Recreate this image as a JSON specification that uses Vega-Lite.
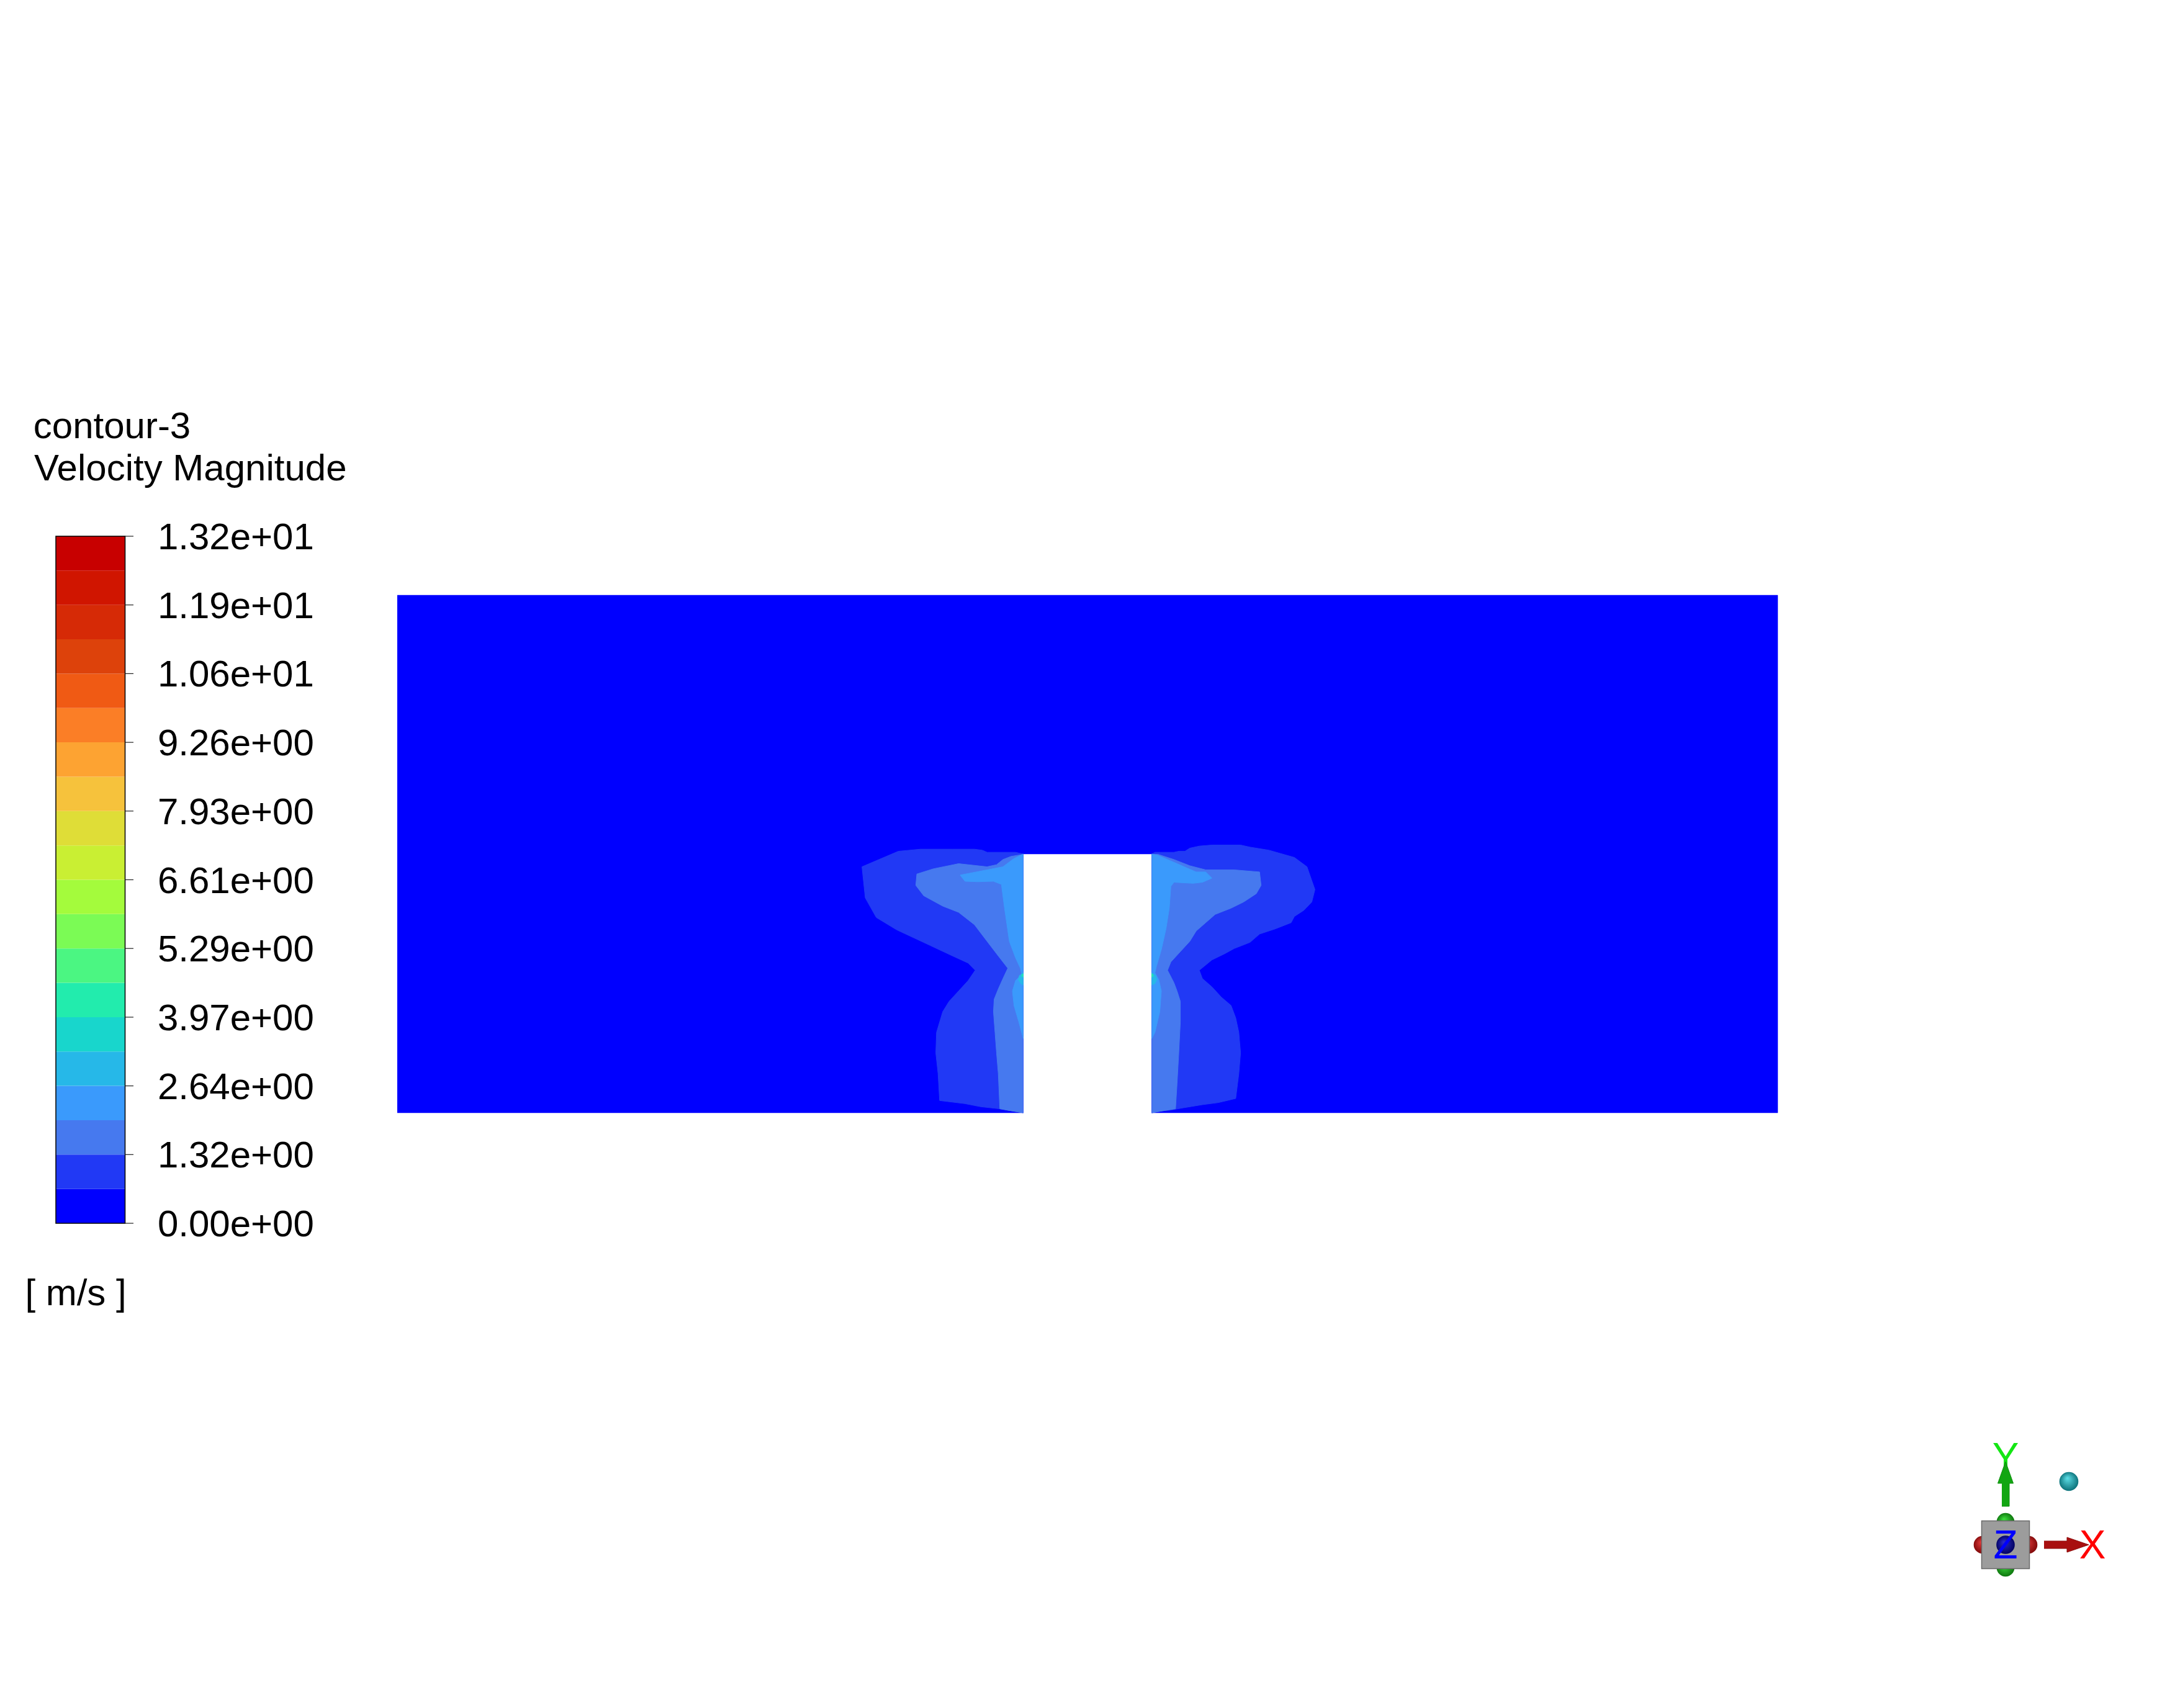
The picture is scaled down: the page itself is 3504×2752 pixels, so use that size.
{
  "$schema": "https://vega.github.io/schema/vega-lite/v6.json",
  "width": 3504,
  "height": 2752,
  "autosize": {"type": "fit", "contains": "padding"},
  "padding": 0,
  "background": "white",
  "config": {"view": {"stroke": null}, "font": "Liberation Sans"},
  "datasets": {
    "field": [
      {"p":"D","band":0,"i":0,"x":-0.4,"y":0},{"p":"D","band":0,"i":1,"x":-0.0372,"y":0},{"p":"D","band":0,"i":2,"x":-0.0372,"y":0.15},{"p":"D","band":0,"i":3,"x":0.0372,"y":0.15},{"p":"D","band":0,"i":4,"x":0.0372,"y":0},{"p":"D","band":0,"i":5,"x":0.4,"y":0},{"p":"D","band":0,"i":6,"x":0.4,"y":0.3},{"p":"D","band":0,"i":7,"x":-0.4,"y":0.3},

      {"p":"L1","band":1,"i":0,"x":-0.0372,"y":0.1500},{"p":"L1","band":1,"i":1,"x":-0.0417,"y":0.1510},{"p":"L1","band":1,"i":2,"x":-0.0582,"y":0.1510},{"p":"L1","band":1,"i":3,"x":-0.0609,"y":0.1522},{"p":"L1","band":1,"i":4,"x":-0.0655,"y":0.1528},{"p":"L1","band":1,"i":5,"x":-0.0784,"y":0.1528},{"p":"L1","band":1,"i":6,"x":-0.0967,"y":0.1528},{"p":"L1","band":1,"i":7,"x":-0.1096,"y":0.1516},{"p":"L1","band":1,"i":8,"x":-0.1307,"y":0.1426},{"p":"L1","band":1,"i":9,"x":-0.1288,"y":0.1246},{"p":"L1","band":1,"i":10,"x":-0.1224,"y":0.1132},{"p":"L1","band":1,"i":11,"x":-0.1105,"y":0.1060},{"p":"L1","band":1,"i":12,"x":-0.0912,"y":0.0970},{"p":"L1","band":1,"i":13,"x":-0.0784,"y":0.0910},{"p":"L1","band":1,"i":14,"x":-0.0692,"y":0.0868},{"p":"L1","band":1,"i":15,"x":-0.0651,"y":0.0826},{"p":"L1","band":1,"i":16,"x":-0.0692,"y":0.0766},{"p":"L1","band":1,"i":17,"x":-0.0747,"y":0.0706},{"p":"L1","band":1,"i":18,"x":-0.0802,"y":0.0646},{"p":"L1","band":1,"i":19,"x":-0.0839,"y":0.0586},{"p":"L1","band":1,"i":20,"x":-0.0875,"y":0.0466},{"p":"L1","band":1,"i":21,"x":-0.0879,"y":0.0347},{"p":"L1","band":1,"i":22,"x":-0.0866,"y":0.0227},{"p":"L1","band":1,"i":23,"x":-0.0857,"y":0.0071},{"p":"L1","band":1,"i":24,"x":-0.0710,"y":0.0053},{"p":"L1","band":1,"i":25,"x":-0.0618,"y":0.0035},{"p":"L1","band":1,"i":26,"x":-0.0508,"y":0.0023},{"p":"L1","band":1,"i":27,"x":-0.0372,"y":0.0},

      {"p":"L2","band":2,"i":0,"x":-0.0372,"y":0.1498},{"p":"L2","band":2,"i":1,"x":-0.0444,"y":0.1486},{"p":"L2","band":2,"i":2,"x":-0.0490,"y":0.1468},{"p":"L2","band":2,"i":3,"x":-0.0527,"y":0.1438},{"p":"L2","band":2,"i":4,"x":-0.0582,"y":0.1426},{"p":"L2","band":2,"i":5,"x":-0.0747,"y":0.1444},{"p":"L2","band":2,"i":6,"x":-0.0894,"y":0.1414},{"p":"L2","band":2,"i":7,"x":-0.0989,"y":0.1384},{"p":"L2","band":2,"i":8,"x":-0.0995,"y":0.1318},{"p":"L2","band":2,"i":9,"x":-0.0949,"y":0.1258},{"p":"L2","band":2,"i":10,"x":-0.0839,"y":0.1198},{"p":"L2","band":2,"i":11,"x":-0.0747,"y":0.1162},{"p":"L2","band":2,"i":12,"x":-0.0655,"y":0.1090},{"p":"L2","band":2,"i":13,"x":-0.0582,"y":0.0994},{"p":"L2","band":2,"i":14,"x":-0.0527,"y":0.0922},{"p":"L2","band":2,"i":15,"x":-0.0490,"y":0.0874},{"p":"L2","band":2,"i":16,"x":-0.0462,"y":0.0838},{"p":"L2","band":2,"i":17,"x":-0.0490,"y":0.0778},{"p":"L2","band":2,"i":18,"x":-0.0517,"y":0.0718},{"p":"L2","band":2,"i":19,"x":-0.0541,"y":0.0658},{"p":"L2","band":2,"i":20,"x":-0.0545,"y":0.0586},{"p":"L2","band":2,"i":21,"x":-0.0536,"y":0.0466},{"p":"L2","band":2,"i":22,"x":-0.0527,"y":0.0347},{"p":"L2","band":2,"i":23,"x":-0.0517,"y":0.0227},{"p":"L2","band":2,"i":24,"x":-0.0508,"y":0.0023},{"p":"L2","band":2,"i":25,"x":-0.0453,"y":0.0013},{"p":"L2","band":2,"i":26,"x":-0.0372,"y":0.0},

      {"p":"L3","band":3,"i":0,"x":-0.0372,"y":0.1500},{"p":"L3","band":3,"i":1,"x":-0.0426,"y":0.1474},{"p":"L3","band":3,"i":2,"x":-0.0490,"y":0.1426},{"p":"L3","band":3,"i":3,"x":-0.0582,"y":0.1408},{"p":"L3","band":3,"i":4,"x":-0.0738,"y":0.1378},{"p":"L3","band":3,"i":5,"x":-0.0710,"y":0.1342},{"p":"L3","band":3,"i":6,"x":-0.0637,"y":0.1339},{"p":"L3","band":3,"i":7,"x":-0.0545,"y":0.1342},{"p":"L3","band":3,"i":8,"x":-0.0499,"y":0.1324},{"p":"L3","band":3,"i":9,"x":-0.0481,"y":0.1186},{"p":"L3","band":3,"i":10,"x":-0.0453,"y":0.0994},{"p":"L3","band":3,"i":11,"x":-0.0417,"y":0.0898},{"p":"L3","band":3,"i":12,"x":-0.0389,"y":0.0838},{"p":"L3","band":3,"i":13,"x":-0.0380,"y":0.0802},{"p":"L3","band":3,"i":14,"x":-0.0417,"y":0.0766},{"p":"L3","band":3,"i":15,"x":-0.0435,"y":0.0706},{"p":"L3","band":3,"i":16,"x":-0.0426,"y":0.0622},{"p":"L3","band":3,"i":17,"x":-0.0398,"y":0.0526},{"p":"L3","band":3,"i":18,"x":-0.0372,"y":0.0430},

      {"p":"L4","band":4,"i":0,"x":-0.0372,"y":0.0812},{"p":"L4","band":4,"i":1,"x":-0.0395,"y":0.0796},{"p":"L4","band":4,"i":2,"x":-0.0402,"y":0.0772},{"p":"L4","band":4,"i":3,"x":-0.0387,"y":0.0748},{"p":"L4","band":4,"i":4,"x":-0.0372,"y":0.0740},
      {"p":"L5","band":6,"i":0,"x":-0.0372,"y":0.0808},{"p":"L5","band":6,"i":1,"x":-0.0381,"y":0.0800},{"p":"L5","band":6,"i":2,"x":-0.0379,"y":0.0790},{"p":"L5","band":6,"i":3,"x":-0.0372,"y":0.0786},

      {"p":"R1","band":1,"i":0,"x":0.0372,"y":0.1500},{"p":"R1","band":1,"i":1,"x":0.0391,"y":0.1510},{"p":"R1","band":1,"i":2,"x":0.0501,"y":0.1510},{"p":"R1","band":1,"i":3,"x":0.0529,"y":0.1516},{"p":"R1","band":1,"i":4,"x":0.0565,"y":0.1516},{"p":"R1","band":1,"i":5,"x":0.0593,"y":0.1534},{"p":"R1","band":1,"i":6,"x":0.0648,"y":0.1546},{"p":"R1","band":1,"i":7,"x":0.0721,"y":0.1552},{"p":"R1","band":1,"i":8,"x":0.0887,"y":0.1552},{"p":"R1","band":1,"i":9,"x":0.0942,"y":0.1540},{"p":"R1","band":1,"i":10,"x":0.1052,"y":0.1522},{"p":"R1","band":1,"i":11,"x":0.1199,"y":0.1480},{"p":"R1","band":1,"i":12,"x":0.1272,"y":0.1426},{"p":"R1","band":1,"i":13,"x":0.1318,"y":0.1294},{"p":"R1","band":1,"i":14,"x":0.1300,"y":0.1222},{"p":"R1","band":1,"i":15,"x":0.1254,"y":0.1174},{"p":"R1","band":1,"i":16,"x":0.1199,"y":0.1138},{"p":"R1","band":1,"i":17,"x":0.1180,"y":0.1102},{"p":"R1","band":1,"i":18,"x":0.1088,"y":0.1066},{"p":"R1","band":1,"i":19,"x":0.0997,"y":0.1036},{"p":"R1","band":1,"i":20,"x":0.0942,"y":0.0988},{"p":"R1","band":1,"i":21,"x":0.0850,"y":0.0952},{"p":"R1","band":1,"i":22,"x":0.0795,"y":0.0922},{"p":"R1","band":1,"i":23,"x":0.0721,"y":0.0886},{"p":"R1","band":1,"i":24,"x":0.0648,"y":0.0826},{"p":"R1","band":1,"i":25,"x":0.0666,"y":0.0778},{"p":"R1","band":1,"i":26,"x":0.0721,"y":0.0730},{"p":"R1","band":1,"i":27,"x":0.0776,"y":0.0670},{"p":"R1","band":1,"i":28,"x":0.0832,"y":0.0622},{"p":"R1","band":1,"i":29,"x":0.0859,"y":0.0550},{"p":"R1","band":1,"i":30,"x":0.0877,"y":0.0466},{"p":"R1","band":1,"i":31,"x":0.0887,"y":0.0347},{"p":"R1","band":1,"i":32,"x":0.0877,"y":0.0227},{"p":"R1","band":1,"i":33,"x":0.0859,"y":0.0083},{"p":"R1","band":1,"i":34,"x":0.0758,"y":0.0059},{"p":"R1","band":1,"i":35,"x":0.0666,"y":0.0047},{"p":"R1","band":1,"i":36,"x":0.0556,"y":0.0029},{"p":"R1","band":1,"i":37,"x":0.0483,"y":0.0016},{"p":"R1","band":1,"i":38,"x":0.0428,"y":0.0010},{"p":"R1","band":1,"i":39,"x":0.0372,"y":0.0},

      {"p":"R2","band":2,"i":0,"x":0.0372,"y":0.1498},{"p":"R2","band":2,"i":1,"x":0.0409,"y":0.1498},{"p":"R2","band":2,"i":2,"x":0.0501,"y":0.1468},{"p":"R2","band":2,"i":3,"x":0.0593,"y":0.1432},{"p":"R2","band":2,"i":4,"x":0.0685,"y":0.1408},{"p":"R2","band":2,"i":5,"x":0.0850,"y":0.1408},{"p":"R2","band":2,"i":6,"x":0.0997,"y":0.1396},{"p":"R2","band":2,"i":7,"x":0.1006,"y":0.1318},{"p":"R2","band":2,"i":8,"x":0.0978,"y":0.1270},{"p":"R2","band":2,"i":9,"x":0.0905,"y":0.1222},{"p":"R2","band":2,"i":10,"x":0.0832,"y":0.1186},{"p":"R2","band":2,"i":11,"x":0.0740,"y":0.1150},{"p":"R2","band":2,"i":12,"x":0.0685,"y":0.1102},{"p":"R2","band":2,"i":13,"x":0.0630,"y":0.1054},{"p":"R2","band":2,"i":14,"x":0.0593,"y":0.0994},{"p":"R2","band":2,"i":15,"x":0.0538,"y":0.0934},{"p":"R2","band":2,"i":16,"x":0.0483,"y":0.0874},{"p":"R2","band":2,"i":17,"x":0.0464,"y":0.0826},{"p":"R2","band":2,"i":18,"x":0.0501,"y":0.0754},{"p":"R2","band":2,"i":19,"x":0.0519,"y":0.0706},{"p":"R2","band":2,"i":20,"x":0.0538,"y":0.0646},{"p":"R2","band":2,"i":21,"x":0.0538,"y":0.0526},{"p":"R2","band":2,"i":22,"x":0.0529,"y":0.0347},{"p":"R2","band":2,"i":23,"x":0.0519,"y":0.0167},{"p":"R2","band":2,"i":24,"x":0.0510,"y":0.0023},{"p":"R2","band":2,"i":25,"x":0.0446,"y":0.0013},{"p":"R2","band":2,"i":26,"x":0.0372,"y":0.0},

      {"p":"R3","band":3,"i":0,"x":0.0372,"y":0.1500},{"p":"R3","band":3,"i":1,"x":0.0409,"y":0.1492},{"p":"R3","band":3,"i":2,"x":0.0464,"y":0.1468},{"p":"R3","band":3,"i":3,"x":0.0519,"y":0.1444},{"p":"R3","band":3,"i":4,"x":0.0574,"y":0.1420},{"p":"R3","band":3,"i":5,"x":0.0630,"y":0.1396},{"p":"R3","band":3,"i":6,"x":0.0685,"y":0.1396},{"p":"R3","band":3,"i":7,"x":0.0721,"y":0.1360},{"p":"R3","band":3,"i":8,"x":0.0666,"y":0.1336},{"p":"R3","band":3,"i":9,"x":0.0611,"y":0.1330},{"p":"R3","band":3,"i":10,"x":0.0501,"y":0.1336},{"p":"R3","band":3,"i":11,"x":0.0483,"y":0.1312},{"p":"R3","band":3,"i":12,"x":0.0474,"y":0.1186},{"p":"R3","band":3,"i":13,"x":0.0455,"y":0.1066},{"p":"R3","band":3,"i":14,"x":0.0428,"y":0.0946},{"p":"R3","band":3,"i":15,"x":0.0400,"y":0.0850},{"p":"R3","band":3,"i":16,"x":0.0391,"y":0.0812},{"p":"R3","band":3,"i":17,"x":0.0413,"y":0.0772},{"p":"R3","band":3,"i":18,"x":0.0428,"y":0.0706},{"p":"R3","band":3,"i":19,"x":0.0419,"y":0.0586},{"p":"R3","band":3,"i":20,"x":0.0391,"y":0.0466},{"p":"R3","band":3,"i":21,"x":0.0372,"y":0.0430},

      {"p":"R4","band":4,"i":0,"x":0.0372,"y":0.0812},{"p":"R4","band":4,"i":1,"x":0.0395,"y":0.0796},{"p":"R4","band":4,"i":2,"x":0.0403,"y":0.0772},{"p":"R4","band":4,"i":3,"x":0.0391,"y":0.0748},{"p":"R4","band":4,"i":4,"x":0.0372,"y":0.0740},
      {"p":"R5","band":6,"i":0,"x":0.0372,"y":0.0808},{"p":"R5","band":6,"i":1,"x":0.0381,"y":0.0800},{"p":"R5","band":6,"i":2,"x":0.0379,"y":0.0790},{"p":"R5","band":6,"i":3,"x":0.0372,"y":0.0786}
    ],
    "bands": [
      {"band":0,"lo":0,"hi":0.66},{"band":1,"lo":0.66,"hi":1.32},{"band":2,"lo":1.32,"hi":1.98},{"band":3,"lo":1.98,"hi":2.64},{"band":4,"lo":2.64,"hi":3.30},{"band":5,"lo":3.30,"hi":3.96},{"band":6,"lo":3.96,"hi":4.62},{"band":7,"lo":4.62,"hi":5.28},{"band":8,"lo":5.28,"hi":5.94},{"band":9,"lo":5.94,"hi":6.60},{"band":10,"lo":6.60,"hi":7.26},{"band":11,"lo":7.26,"hi":7.92},{"band":12,"lo":7.92,"hi":8.58},{"band":13,"lo":8.58,"hi":9.24},{"band":14,"lo":9.24,"hi":9.90},{"band":15,"lo":9.90,"hi":10.56},{"band":16,"lo":10.56,"hi":11.22},{"band":17,"lo":11.22,"hi":11.88},{"band":18,"lo":11.88,"hi":12.54},{"band":19,"lo":12.54,"hi":13.2}
    ],
    "ticks": [
      {"v":0,"label":"0.00e+00"},{"v":1.32,"label":"1.32e+00"},{"v":2.64,"label":"2.64e+00"},{"v":3.96,"label":"3.97e+00"},{"v":5.28,"label":"5.29e+00"},{"v":6.60,"label":"6.61e+00"},{"v":7.92,"label":"7.93e+00"},{"v":9.24,"label":"9.26e+00"},{"v":10.56,"label":"1.06e+01"},{"v":11.88,"label":"1.19e+01"},{"v":13.2,"label":"1.32e+01"}
    ],
    "triadPoly": [
      {"part":"Y","i":0,"x":-0.06,"y":0.62},{"part":"Y","i":1,"x":0.06,"y":0.62},{"part":"Y","i":2,"x":0.06,"y":0.99},{"part":"Y","i":3,"x":0.125,"y":0.99},{"part":"Y","i":4,"x":0,"y":1.34},{"part":"Y","i":5,"x":-0.125,"y":0.99},{"part":"Y","i":6,"x":-0.06,"y":0.99},
      {"part":"X","i":0,"x":0.62,"y":-0.06},{"part":"X","i":1,"x":0.99,"y":-0.06},{"part":"X","i":2,"x":0.99,"y":-0.12},{"part":"X","i":3,"x":1.34,"y":0},{"part":"X","i":4,"x":0.99,"y":0.12},{"part":"X","i":5,"x":0.99,"y":0.06},{"part":"X","i":6,"x":0.62,"y":0.06}
    ],
    "triadPts": [
      {"part":"red","x":-0.37,"y":0},{"part":"red","x":0.37,"y":0},
      {"part":"green","x":0,"y":0.37},{"part":"green","x":0,"y":-0.37},
      {"part":"box","x":0,"y":0},
      {"part":"blue","x":0,"y":0},
      {"part":"teal","x":1.02,"y":1.02}
    ],
    "triadText": [
      {"axis":"X","x":1.40,"y":0},{"axis":"Y","x":0,"y":1.41},{"axis":"Z","x":0,"y":0}
    ]
  },
  "resolve": {"scale": {"x": "independent", "y": "independent"}},
  "layer": [
    {
      "data": {"name": "field"},
      "encoding": {
        "x": {"field": "x", "type": "quantitative", "scale": {"domain": [-0.63022, 0.63022], "nice": false, "zero": false}, "axis": null},
        "y": {"field": "y", "type": "quantitative", "scale": {"domain": [-0.34496, 0.64496], "nice": false, "zero": false}, "axis": null},
        "order": {"field": "i", "type": "quantitative"},
        "detail": {"field": "p", "type": "nominal"},
        "fill": {"field": "band", "type": "ordinal", "legend": null, "scale": {"domain": [0,1,2,3,4,5,6,7,8,9,10,11,12,13,14,15,16,17,18,19], "range": ["#0000ff","#2139f5","#4679ef","#3a9afc","#26b8e8","#18d6cc","#22ecad","#4bf682","#7bfb55","#a4fb3c","#c9ef33","#dfdd37","#f6c23c","#fda332","#fb7e26","#f05a14","#dd420b","#d62a06","#d01500","#c80000"]}},
        "stroke": {"field": "band", "type": "ordinal", "legend": null, "scale": {"domain": [0,1,2,3,4,5,6,7,8,9,10,11,12,13,14,15,16,17,18,19], "range": ["#0000ff","#2139f5","#4679ef","#3a9afc","#26b8e8","#18d6cc","#22ecad","#4bf682","#7bfb55","#a4fb3c","#c9ef33","#dfdd37","#f6c23c","#fda332","#fb7e26","#f05a14","#dd420b","#d62a06","#d01500","#c80000"]}}
      },
      "layer": [
        {"transform": [{"filter": "datum.band == 0"}], "mark": {"type": "line", "strokeWidth": 0.5, "strokeJoin": "miter"}},
        {"transform": [{"filter": "datum.band == 1"}], "mark": {"type": "line", "strokeWidth": 1, "strokeJoin": "round"}},
        {"transform": [{"filter": "datum.band == 2"}], "mark": {"type": "line", "strokeWidth": 1, "strokeJoin": "round"}},
        {"transform": [{"filter": "datum.band == 3"}], "mark": {"type": "line", "strokeWidth": 1, "strokeJoin": "round"}},
        {"transform": [{"filter": "datum.band >= 4"}], "mark": {"type": "line", "strokeWidth": 0.5, "strokeJoin": "round"}}
      ]
    },
    {
      "layer": [
        {
          "data": {"name": "bands"},
          "mark": {"type": "rect", "strokeWidth": 0},
          "encoding": {
            "x": {"datum": 0, "type": "quantitative", "scale": {"domain": [-0.80717, 30.6188], "nice": false, "zero": false}, "axis": null},
            "x2": {"datum": 1},
            "y": {"field": "lo", "type": "quantitative", "scale": {"domain": [-9.3127, 23.5024], "nice": false, "zero": false}, "axis": null},
            "y2": {"field": "hi"},
            "fill": {"field": "band", "type": "ordinal", "legend": null, "scale": {"domain": [0,1,2,3,4,5,6,7,8,9,10,11,12,13,14,15,16,17,18,19], "range": ["#0000ff","#2139f5","#4679ef","#3a9afc","#26b8e8","#18d6cc","#22ecad","#4bf682","#7bfb55","#a4fb3c","#c9ef33","#dfdd37","#f6c23c","#fda332","#fb7e26","#f05a14","#dd420b","#d62a06","#d01500","#c80000"]}}
          }
        },
        {
          "data": {"values": [{}]},
          "mark": {"type": "rect", "fill": null, "fillOpacity": 0, "stroke": "#000000", "strokeWidth": 1.5},
          "encoding": {
            "x": {"datum": 0, "type": "quantitative", "scale": {"domain": [-0.80717, 30.6188], "nice": false, "zero": false}, "axis": null},
            "x2": {"datum": 1},
            "y": {"datum": 0, "type": "quantitative", "scale": {"domain": [-9.3127, 23.5024], "nice": false, "zero": false}, "axis": null},
            "y2": {"datum": 13.2}
          }
        },
        {
          "data": {"name": "ticks"},
          "mark": {"type": "rule", "stroke": "#222222", "strokeWidth": 1.2},
          "encoding": {
            "x": {"datum": 1, "type": "quantitative", "scale": {"domain": [-0.80717, 30.6188], "nice": false, "zero": false}, "axis": null},
            "x2": {"datum": 1.1211},
            "y": {"field": "v", "type": "quantitative", "scale": {"domain": [-9.3127, 23.5024], "nice": false, "zero": false}, "axis": null}
          }
        },
        {
          "data": {"name": "ticks"},
          "mark": {"type": "text", "align": "left", "baseline": "middle", "dy": 3, "fontSize": 60, "font": "Liberation Sans", "color": "#000000"},
          "encoding": {
            "x": {"datum": 1.47, "type": "quantitative", "scale": {"domain": [-0.80717, 30.6188], "nice": false, "zero": false}, "axis": null},
            "y": {"field": "v", "type": "quantitative", "scale": {"domain": [-9.3127, 23.5024], "nice": false, "zero": false}, "axis": null},
            "text": {"field": "label", "type": "nominal"}
          }
        },
        {
          "data": {"values": [{}]},
          "mark": {"type": "text", "text": "contour-3", "align": "left", "baseline": "alphabetic", "fontSize": 60, "font": "Liberation Sans", "color": "#000000"},
          "encoding": {
            "x": {"datum": -0.325, "type": "quantitative", "scale": {"domain": [-0.80717, 30.6188], "nice": false, "zero": false}, "axis": null},
            "y": {"datum": 15.084, "type": "quantitative", "scale": {"domain": [-9.3127, 23.5024], "nice": false, "zero": false}, "axis": null}
          }
        },
        {
          "data": {"values": [{}]},
          "mark": {"type": "text", "text": "Velocity Magnitude", "align": "left", "baseline": "alphabetic", "fontSize": 60, "font": "Liberation Sans", "color": "#000000"},
          "encoding": {
            "x": {"datum": -0.315, "type": "quantitative", "scale": {"domain": [-0.80717, 30.6188], "nice": false, "zero": false}, "axis": null},
            "y": {"datum": 14.273, "type": "quantitative", "scale": {"domain": [-9.3127, 23.5024], "nice": false, "zero": false}, "axis": null}
          }
        },
        {
          "data": {"values": [{}]},
          "mark": {"type": "text", "text": "[ m/s ]", "align": "left", "baseline": "alphabetic", "fontSize": 60, "font": "Liberation Sans", "color": "#000000"},
          "encoding": {
            "x": {"datum": -0.445, "type": "quantitative", "scale": {"domain": [-0.80717, 30.6188], "nice": false, "zero": false}, "axis": null},
            "y": {"datum": -1.574, "type": "quantitative", "scale": {"domain": [-9.3127, 23.5024], "nice": false, "zero": false}, "axis": null}
          }
        }
      ]
    },
    {
      "encoding": {
        "x": {"field": "x", "type": "quantitative", "scale": {"domain": [-32.31, 2.73], "nice": false, "zero": false}, "axis": null},
        "y": {"field": "y", "type": "quantitative", "scale": {"domain": [-2.63, 24.89], "nice": false, "zero": false}, "axis": null}
      },
      "layer": [
        {
          "data": {"name": "triadPts"},
          "transform": [{"filter": "datum.part == 'red'"}],
          "mark": {"type": "point", "shape": "circle", "filled": true, "size": 820, "opacity": 1, "strokeWidth": 0,
                   "fill": {"gradient": "radial", "x1": 0.4, "y1": 0.35, "x2": 0.5, "y2": 0.5, "r1": 0, "r2": 0.55, "stops": [{"offset": 0, "color": "#e23a3a"}, {"offset": 1, "color": "#7a0606"}]}}
        },
        {
          "data": {"name": "triadPts"},
          "transform": [{"filter": "datum.part == 'green'"}],
          "mark": {"type": "point", "shape": "circle", "filled": true, "size": 820, "opacity": 1, "strokeWidth": 0,
                   "fill": {"gradient": "radial", "x1": 0.4, "y1": 0.35, "x2": 0.5, "y2": 0.5, "r1": 0, "r2": 0.55, "stops": [{"offset": 0, "color": "#3fe03f"}, {"offset": 1, "color": "#0a6e0a"}]}}
        },
        {
          "data": {"name": "triadPts"},
          "transform": [{"filter": "datum.part == 'box'"}],
          "mark": {"type": "point", "shape": "square", "filled": true, "size": 5929, "opacity": 1, "fill": "#9c9c9c", "stroke": "#6a6a6a", "strokeWidth": 1.5}
        },
        {
          "data": {"name": "triadPts"},
          "transform": [{"filter": "datum.part == 'blue'"}],
          "mark": {"type": "point", "shape": "circle", "filled": true, "size": 880, "opacity": 1, "strokeWidth": 0,
                   "fill": {"gradient": "radial", "x1": 0.4, "y1": 0.35, "x2": 0.5, "y2": 0.5, "r1": 0, "r2": 0.55, "stops": [{"offset": 0, "color": "#2b2bd0"}, {"offset": 1, "color": "#00005a"}]}}
        },
        {
          "data": {"name": "triadText"},
          "transform": [{"filter": "datum.axis == 'Z'"}],
          "mark": {"type": "text", "align": "center", "baseline": "middle", "dy": 3, "fontSize": 64, "font": "Liberation Sans", "color": "#0000ff"},
          "encoding": {"text": {"field": "axis", "type": "nominal"}}
        },
        {
          "data": {"name": "triadText"},
          "transform": [{"filter": "datum.axis == 'Y'"}],
          "mark": {"type": "text", "align": "center", "baseline": "middle", "dy": 3, "fontSize": 64, "font": "Liberation Sans", "color": "#14e614"},
          "encoding": {"text": {"field": "axis", "type": "nominal"}}
        },
        {
          "data": {"name": "triadPoly"},
          "transform": [{"filter": "datum.part == 'Y'"}],
          "mark": {"type": "line", "fill": "#12a612", "stroke": "#0f8f0f", "strokeWidth": 1},
          "encoding": {"order": {"field": "i", "type": "quantitative"}}
        },
        {
          "data": {"name": "triadPoly"},
          "transform": [{"filter": "datum.part == 'X'"}],
          "mark": {"type": "line", "fill": "#a80f0f", "stroke": "#8f0c0c", "strokeWidth": 1},
          "encoding": {"order": {"field": "i", "type": "quantitative"}}
        },
        {
          "data": {"name": "triadText"},
          "transform": [{"filter": "datum.axis == 'X'"}],
          "mark": {"type": "text", "align": "center", "baseline": "middle", "dy": 3, "fontSize": 64, "font": "Liberation Sans", "color": "#ff0000"},
          "encoding": {"text": {"field": "axis", "type": "nominal"}}
        },
        {
          "data": {"name": "triadPts"},
          "transform": [{"filter": "datum.part == 'teal'"}],
          "mark": {"type": "point", "shape": "circle", "filled": true, "size": 940, "opacity": 1, "strokeWidth": 0,
                   "fill": {"gradient": "radial", "x1": 0.42, "y1": 0.32, "x2": 0.5, "y2": 0.5, "r1": 0, "r2": 0.55, "stops": [{"offset": 0, "color": "#5ee0e8"}, {"offset": 1, "color": "#066a72"}]}}
        }
      ]
    }
  ]
}
